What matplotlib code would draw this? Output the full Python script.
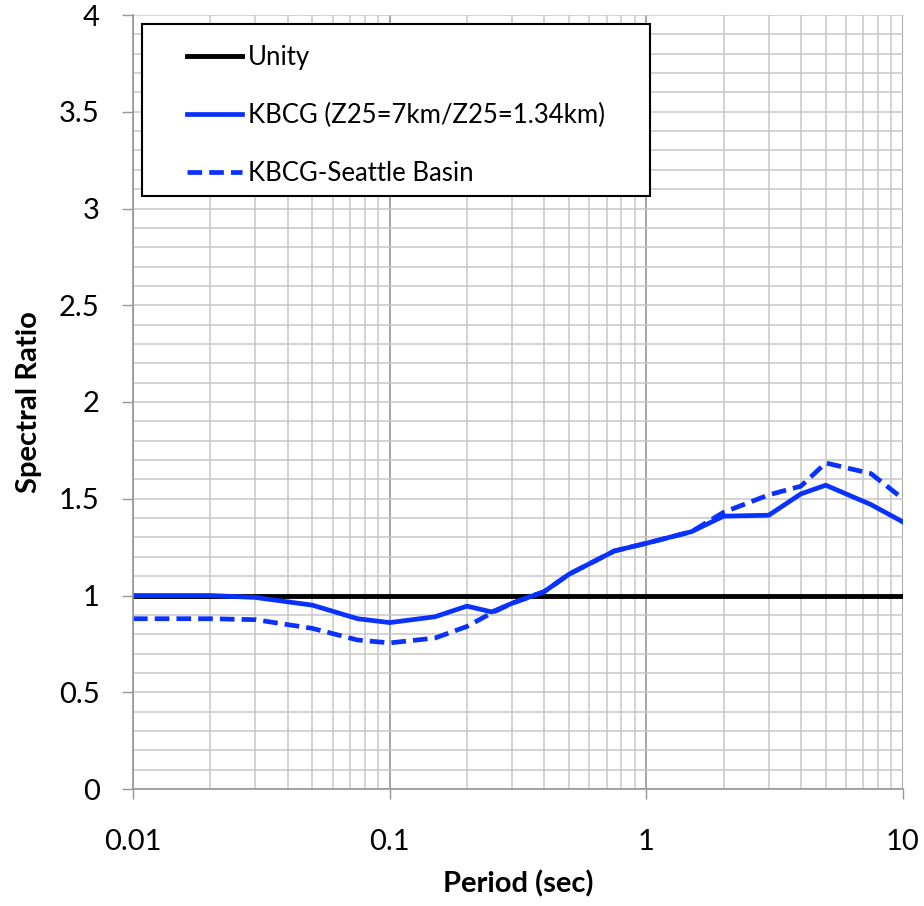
import matplotlib
matplotlib.use("Agg")
import matplotlib.pyplot as plt
from matplotlib.patches import Rectangle
from matplotlib.ticker import FixedLocator, LogLocator, NullFormatter

plt.rcParams['font.family'] = ['Lato', 'DejaVu Sans']

# periods (sec) shared by both KBCG curves
periods = [0.01, 0.02, 0.03, 0.05, 0.075, 0.1, 0.15, 0.2, 0.25, 0.3, 0.4,
           0.5, 0.75, 1.0, 1.5, 2.0, 3.0, 4.0, 5.0, 7.5, 10.0]
kbcg = [1.00, 1.00, 0.99, 0.95, 0.88, 0.86, 0.89, 0.945, 0.915, 0.96, 1.02,
        1.11, 1.23, 1.27, 1.33, 1.41, 1.415, 1.525, 1.57, 1.47, 1.38]
kbcg_basin = [0.88, 0.88, 0.875, 0.83, 0.77, 0.755, 0.78, 0.84, 0.91, 0.96, 1.02,
              1.11, 1.23, 1.27, 1.33, 1.43, 1.52, 1.565, 1.685, 1.63, 1.50]
unity_x = [0.01, 10.0]
unity_y = [1.0, 1.0]

y_ticks = [0, 0.5, 1, 1.5, 2, 2.5, 3, 3.5, 4]
y_labels = ['0', '0.5', '1', '1.5', '2', '2.5', '3', '3.5', '4']
x_ticks = [0.01, 0.1, 1, 10]
x_labels = ['0.01', '0.1', '1', '10']

blue = '#0a32ff'

fig = plt.figure(figsize=(9.24, 9.06), dpi=100)
ax = fig.add_axes([133 / 924, 1 - 789 / 906, 770 / 924, 774 / 906])

ax.set_xscale('log')
ax.set_xlim(0.01, 10)
ax.set_ylim(0, 4)

# grid
ax.xaxis.set_minor_locator(LogLocator(base=10, subs=range(2, 10)))
ax.xaxis.set_minor_formatter(NullFormatter())
ax.yaxis.set_minor_locator(FixedLocator([i / 10 for i in range(41)]))
ax.grid(which='minor', axis='both', color='#c8c8c8', lw=1.1)
ax.grid(which='major', axis='y', color='#c8c8c8', lw=1.1)
ax.grid(which='major', axis='x', color='#969696', lw=1.2)
ax.set_axisbelow(True)

l1, = ax.plot(unity_x, unity_y, color='black', lw=3.5, label='Unity')
l2, = ax.plot(periods, kbcg, color=blue, lw=3.4,
              label='KBCG (Z25=7km/Z25=1.34km)')
l3, = ax.plot(periods, kbcg_basin, color=blue, lw=3.4, ls=(0, (3.1, 1.5)),
              label='KBCG-Seattle Basin')

ax.set_xticks(x_ticks)
ax.set_xticklabels(x_labels)
ax.set_yticks(y_ticks)
ax.set_yticklabels(y_labels)
ax.tick_params(which='minor', length=0)
ax.tick_params(axis='x', which='major', length=7, width=1, color='#969696',
               pad=22, labelsize=21)
ax.tick_params(axis='y', which='major', length=8, width=1, color='#969696',
               pad=16, labelsize=21)

for side in ['top', 'right']:
    ax.spines[side].set_visible(False)
for side in ['left', 'bottom']:
    ax.spines[side].set_color('#969696')
    ax.spines[side].set_linewidth(1.2)

ax.set_xlabel('Period (sec)', fontsize=21, fontweight='bold', labelpad=11)
ax.set_ylabel('Spectral Ratio', fontsize=21, fontweight='bold', labelpad=12)

# legend box drawn by hand, legend itself without frame
ax.add_patch(Rectangle((9 / 770, 1 - 181 / 774), 508 / 770, 172 / 774,
                       transform=ax.transAxes, facecolor='white',
                       edgecolor='black', lw=1.5, zorder=5))
leg = ax.legend(handles=[l1, l2, l3], loc='upper left',
                bbox_to_anchor=(54 / 770, 1 - 30 / 774), frameon=False,
                fontsize=18.5, handlelength=2.15, handletextpad=0.23,
                labelspacing=1.28, borderpad=0, borderaxespad=0)
leg.set_zorder(6)

fig.savefig('out.png', dpi=100)
